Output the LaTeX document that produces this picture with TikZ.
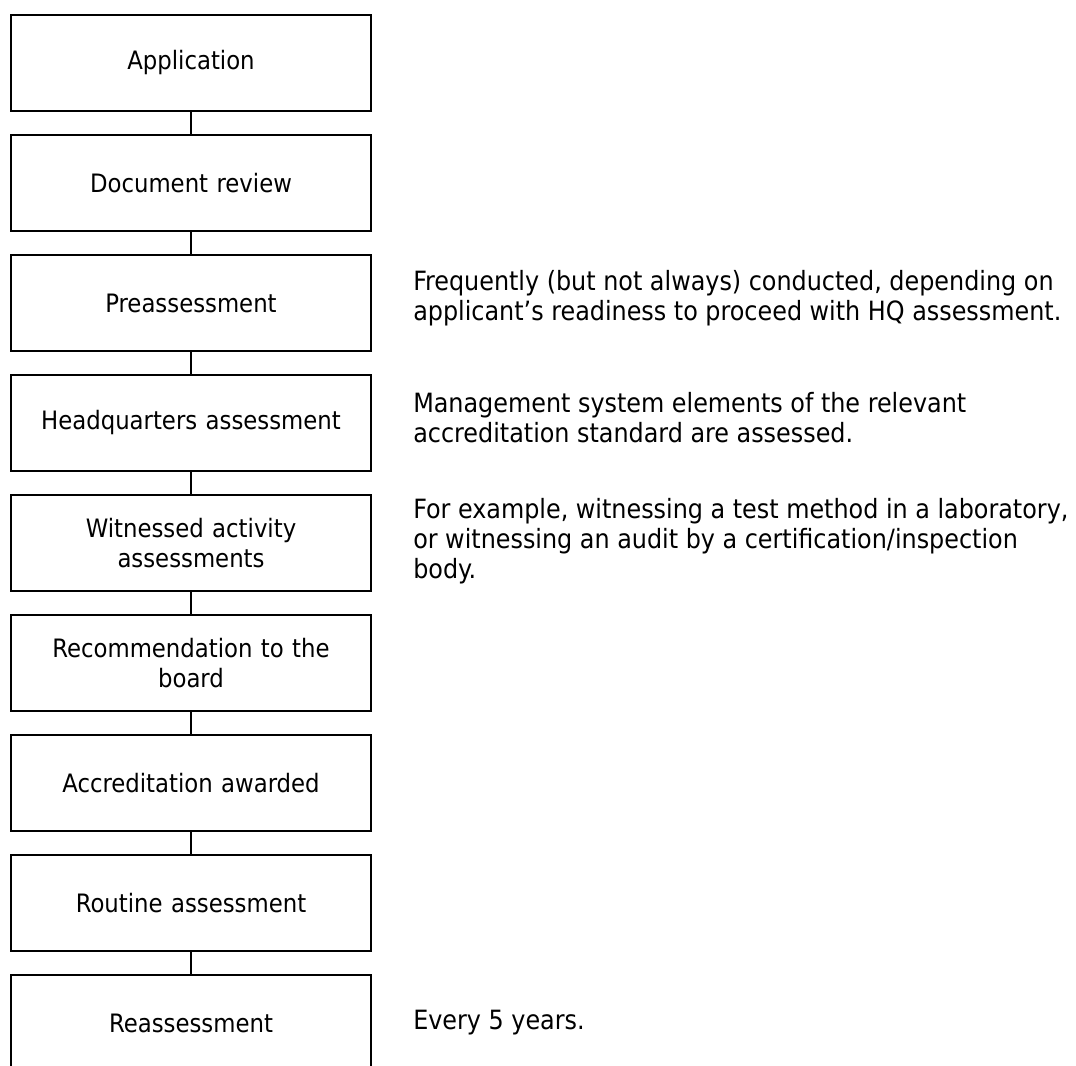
\documentclass[tikz,border=0pt]{standalone}
\usepackage{fontspec}
\setmainfont{DejaVu Sans Condensed}
\begin{document}
\begin{tikzpicture}
[x=0.75pt,y=-0.75pt,
  stepDecorate/.style={shape=rectangle,draw,line width=1.4pt,minimum width=270pt,
    minimum height=72pt,inner sep=0pt,text width=260pt,align=center,
    font=\fontsize{19}{22}\selectfont},
  noteDecorate/.style={anchor=west,inner sep=0pt,align=left,
    font=\fontsize{19.9}{22.6}\selectfont},
  lineDecorate/.style={-,line width=1.4pt}]
\useasboundingbox (0,0) rectangle (1076,1066);
\clip (0,0) rectangle (1076,1066);
%% steps of the process
\foreach \nodename/\y/\steptext in {
  0/63/Application, 1/183/Document review, 2/303/Preassessment,
  3/423/Headquarters assessment, 4/543/{Witnessed activity\\assessments},
  5/663/{Recommendation to the\\board}, 6/783/Accreditation awarded,
  7/903/Routine assessment, 8/1023/Reassessment}
{
  \node (\nodename) at (191,\y) [stepDecorate] {\steptext};
}
%% remarks beside the steps
\foreach \nodename/\y/\notetext in {
  2/298/{Frequently (but not always) conducted, depending on\\applicant’s readiness to proceed with HQ assessment.},
  3/418/{Management system elements of the relevant\\accreditation standard are assessed.},
  4/541/{For example, witnessing a test method in a laboratory,\\or witnessing an audit by a certification/inspection\\body.},
  8/1023/{Every 5 years.}}
{
  \node (note\nodename) at (413,\y) [noteDecorate] {\notetext};
}
%% links between the steps
\path
\foreach \startnode/\endnode in {0/1, 1/2, 2/3, 3/4, 4/5, 5/6, 6/7, 7/8}
{
  (\startnode) edge[lineDecorate] (\endnode)
};
\end{tikzpicture}
\end{document}
